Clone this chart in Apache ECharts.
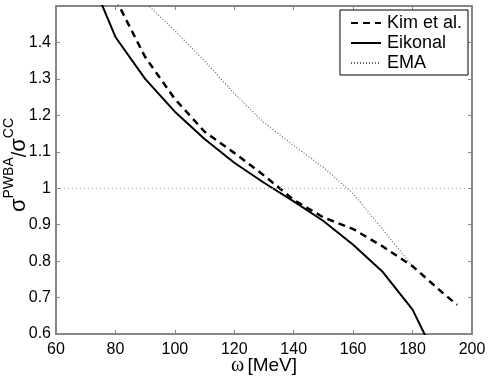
<!DOCTYPE html>
<html style="height: 100%">
  <head>
    <meta charset="UTF-8" />
    <title>sigma PWBA / sigma CC</title>
    <script src="https://cdn.jsdelivr.net/npm/echarts@6/dist/echarts.min.js"></script>
  </head>
  <body style="height: 100%; margin: 0; background: #fff">
    <div id="main" style="width: 491px; height: 379px"></div>
    <script>
      // data (omega in MeV, ratio sigma^PWBA / sigma^CC)
      var kimOmega = [80, 90, 100, 110, 120, 130, 140, 150, 160, 170, 180, 190, 195];
      var kimRatio = [1.52, 1.36, 1.245, 1.155, 1.097, 1.035, 0.968, 0.92, 0.888, 0.84, 0.786, 0.714, 0.68];

      var eikOmega = [70, 80, 90, 100, 110, 120, 130, 140, 150, 160, 170, 180, 190];
      var eikRatio = [1.61, 1.415, 1.3, 1.21, 1.135, 1.07, 1.015, 0.964, 0.91, 0.845, 0.77, 0.667, 0.5];

      var emaOmega = [90, 100, 110, 120, 130, 140, 150, 160, 170, 180];
      var emaRatio = [1.51, 1.432, 1.349, 1.26, 1.18, 1.117, 1.057, 0.985, 0.886, 0.786];

      var refLevel = 1;

      function pairs(xs, ys) {
        return xs.map(function (x, i) {
          return [x, ys[i]];
        });
      }

      var font = 'Liberation Sans, Arial, Helvetica, sans-serif';
      var axisColor = '#858585';

      var chart = echarts.init(document.getElementById('main'));

      var boxAxis = {
        type: 'value',
        axisLine: { show: true, lineStyle: { color: axisColor, width: 2 } },
        axisTick: { show: true, inside: true, length: 4, lineStyle: { color: axisColor, width: 1 } },
        splitLine: { show: false },
      };

      var option = {
        animation: false,
        textStyle: { fontFamily: font },
        // fixed plot box, labels may hang outside it
        grid: { left: 56, right: 19, top: 6, bottom: 45, outerBoundsMode: 'none', containLabel: false },
        legend: {
          orient: 'vertical',
          right: 23,
          top: 10,
          padding: [4, 6, 3, 10],
          itemGap: 2,
          itemWidth: 30,
          itemHeight: 17,
          borderColor: '#000',
          borderWidth: 1,
          backgroundColor: '#fff',
          // hide the marker the line legend icon puts in the middle
          itemStyle: { color: 'transparent', borderColor: 'transparent', borderWidth: 0 },
          textStyle: { fontSize: 18, color: '#000', fontFamily: font, padding: [0, 0, 0, 1] },
          data: ['Kim et al.', 'Eikonal', 'EMA'],
        },
        xAxis: [
          Object.assign({}, boxAxis, {
            position: 'bottom',
            min: 60,
            max: 200,
            interval: 20,
            axisLabel: { fontSize: 16, color: '#000', margin: 8 },
            name: '{w|ω} {t|[MeV]}',
            nameLocation: 'middle',
            nameGap: 22,
            nameMoveOverlap: false,
            nameTextStyle: {
              rich: {
                w: { fontSize: 20, fontFamily: 'Liberation Serif, serif', color: '#000' },
                t: { fontSize: 19, fontFamily: font, color: '#000' },
              },
            },
          }),
          Object.assign({}, boxAxis, {
            position: 'top',
            min: 60,
            max: 200,
            interval: 20,
            axisLabel: { show: false },
          }),
        ],
        yAxis: [
          Object.assign({}, boxAxis, {
            position: 'left',
            min: 0.6,
            max: 1.5,
            interval: 0.1,
            axisLabel: {
              fontSize: 16,
              color: '#000',
              margin: 5,
              formatter: function (v) {
                var r = Math.round(v * 10) / 10;
                return r >= 1.5 ? '' : String(r);
              },
            },
            name: '{s|σ}{p|PWBA}{n|/}{s|σ}{p|CC}',
            nameLocation: 'middle',
            nameRotate: 90,
            nameGap: 26,
            nameMoveOverlap: false,
            nameTextStyle: {
              lineHeight: 28,
              padding: [0, 0, 0, 10],
              rich: {
                s: { fontSize: 22, verticalAlign: 'bottom', lineHeight: 28, color: '#000' },
                p: { fontSize: 14, verticalAlign: 'top', lineHeight: 28, color: '#000' },
                n: { fontSize: 20, verticalAlign: 'bottom', lineHeight: 28, color: '#000' },
              },
            },
          }),
          Object.assign({}, boxAxis, {
            position: 'right',
            min: 0.6,
            max: 1.5,
            interval: 0.1,
            axisLabel: { show: false },
          }),
        ],
        series: [
          {
            name: 'Kim et al.',
            type: 'line',
            symbol: 'none',
            clip: true,
            lineStyle: { color: '#000', width: 2.5, type: [7, 5] },
            itemStyle: { color: '#000' },
            data: pairs(kimOmega, kimRatio),
            z: 4,
          },
          {
            name: 'Eikonal',
            type: 'line',
            symbol: 'none',
            clip: true,
            lineStyle: { color: '#000', width: 2 },
            itemStyle: { color: '#000' },
            data: pairs(eikOmega, eikRatio),
            z: 3,
          },
          {
            name: 'EMA',
            type: 'line',
            symbol: 'none',
            clip: true,
            lineStyle: { color: '#666', width: 1.2, type: [1, 2] },
            itemStyle: { color: '#666' },
            data: pairs(emaOmega, emaRatio),
            markLine: {
              silent: true,
              symbol: 'none',
              label: { show: false },
              lineStyle: { color: '#aaa', width: 1, type: [1, 3] },
              data: [{ yAxis: refLevel }],
            },
            z: 2,
          },
        ],
      };

      chart.setOption(option);
    </script>
  </body>
</html>
